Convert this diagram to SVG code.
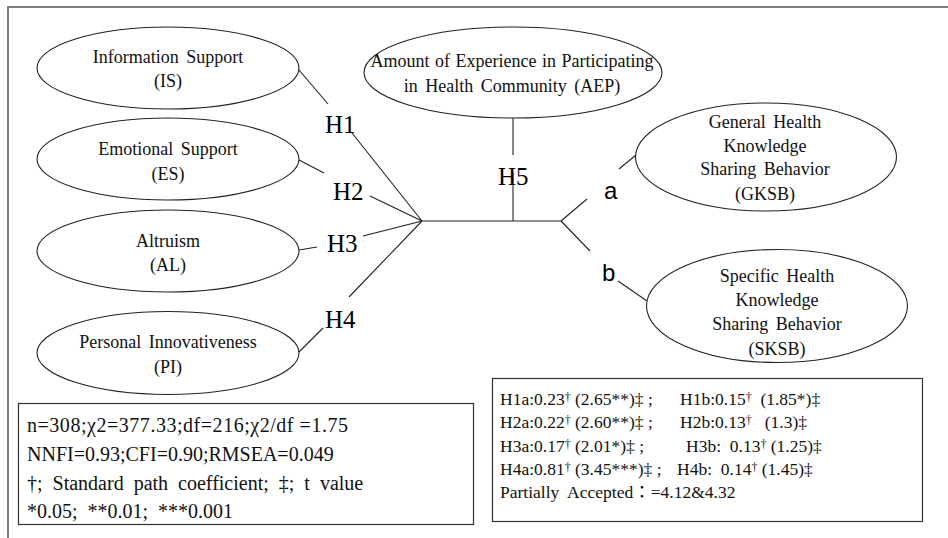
<svg xmlns="http://www.w3.org/2000/svg" width="948" height="538" viewBox="0 0 948 538">
<style>
  .frame{fill:#fff;stroke:#808080;stroke-width:2}
  .node{fill:#fff;stroke:#222;stroke-width:1.1}
  .lbl{font-family:"Liberation Serif","Times New Roman",serif;font-size:18px;fill:#111;text-anchor:middle;word-spacing:3px}
  .h{font-family:"Liberation Serif","Times New Roman",serif;font-size:25px;fill:#000}
  .ab{font-family:"Liberation Sans",Arial,sans-serif;font-size:24px;fill:#000}
  .conn line{stroke:#222;stroke-width:1.1}
  .box{fill:#fff;stroke:#333;stroke-width:1.2}
  .stat{font-family:"Liberation Serif","Times New Roman",serif;font-size:20px;fill:#111;white-space:pre}
  .res{font-family:"Liberation Serif","Times New Roman","Noto Sans CJK KR",serif;font-size:17.5px;fill:#111;white-space:pre}
  .sup{font-size:12px}
</style>
<rect class="frame" x="8" y="7" width="980" height="580"/>

<g id="connectors" class="conn">
  <line x1="299" y1="70" x2="328" y2="104"/>
  <line x1="352" y1="133" x2="422" y2="221"/>
  <line x1="299" y1="160" x2="324" y2="173"/>
  <line x1="370" y1="196" x2="422" y2="221"/>
  <line x1="299" y1="250" x2="317" y2="247"/>
  <line x1="363" y1="236" x2="422" y2="221"/>
  <line x1="299" y1="352" x2="323" y2="328"/>
  <line x1="349" y1="297" x2="422" y2="221"/>
  <line x1="422" y1="221" x2="561" y2="221"/>
  <line x1="561" y1="221" x2="587" y2="199"/>
  <line x1="561" y1="221" x2="590" y2="251"/>
  <line x1="619" y1="169" x2="636" y2="155"/>
  <line x1="618" y1="281" x2="647" y2="301"/>
  <line x1="513" y1="118" x2="513" y2="155"/>
  <line x1="513" y1="172" x2="513" y2="221"/>
</g>

<g id="IS">
  <ellipse class="node" cx="168" cy="68" rx="131" ry="41"/>
  <text class="lbl" x="168" y="63">Information Support</text>
  <text class="lbl" x="168" y="87">(IS)</text>
</g>
<g id="ES">
  <ellipse class="node" cx="168" cy="159" rx="131" ry="41"/>
  <text class="lbl" x="168" y="155">Emotional Support</text>
  <text class="lbl" x="168" y="180">(ES)</text>
</g>
<g id="AL">
  <ellipse class="node" cx="168" cy="251" rx="131" ry="41"/>
  <text class="lbl" x="168" y="247">Altruism</text>
  <text class="lbl" x="168" y="271">(AL)</text>
</g>
<g id="PI">
  <ellipse class="node" cx="168" cy="353" rx="131" ry="41.5"/>
  <text class="lbl" x="168" y="348">Personal Innovativeness</text>
  <text class="lbl" x="168" y="373">(PI)</text>
</g>
<g id="AEP">
  <ellipse class="node" cx="513" cy="72.5" rx="149" ry="45.5"/>
  <text class="lbl" x="512" y="67" style="word-spacing:1px">Amount of Experience in Participating</text>
  <text class="lbl" x="512" y="92">in Health Community (AEP)</text>
</g>
<g id="GKSB">
  <ellipse class="node" cx="766" cy="157" rx="130.5" ry="54"/>
  <text class="lbl" x="765" y="128">General Health</text>
  <text class="lbl" x="765" y="152">Knowledge</text>
  <text class="lbl" x="765" y="175">Sharing Behavior</text>
  <text class="lbl" x="765" y="200">(GKSB)</text>
</g>
<g id="SKSB">
  <ellipse class="node" cx="777" cy="306" rx="130.5" ry="56.5"/>
  <text class="lbl" x="777" y="282">Specific Health</text>
  <text class="lbl" x="777" y="306">Knowledge</text>
  <text class="lbl" x="777" y="330">Sharing Behavior</text>
  <text class="lbl" x="777" y="355">(SKSB)</text>
</g>

<g id="labels">
  <text class="h" x="325" y="133">H1</text>
  <text class="h" x="333" y="200">H2</text>
  <text class="h" x="327" y="252">H3</text>
  <text class="h" x="325" y="328">H4</text>
  <text class="h" x="498" y="185">H5</text>
  <text class="ab" x="604" y="199">a</text>
  <text class="ab" x="602" y="281">b</text>
</g>

<g id="fit-stats">
  <rect class="box" x="18.5" y="403.5" width="455" height="121"/>
  <text class="stat" x="27" y="432" textLength="321" lengthAdjust="spacing">n=308;χ2=377.33;df=216;χ2/df =1.75</text>
  <text class="stat" x="27" y="461">NNFI=0.93;CFI=0.90;RMSEA=0.049</text>
  <text class="stat" x="27" y="490">†;  Standard  path  coefficient;  ‡;  t  value</text>
  <text class="stat" x="27" y="518">*0.05;  **0.01;  ***0.001</text>
</g>

<g id="results">
  <rect class="box" x="492.5" y="378.5" width="430" height="143"/>
  <text class="res" x="500" y="405">H1a:0.23<tspan class="sup" dy="-4">†</tspan><tspan dy="4"> (2.65**)‡ ;</tspan></text>
  <text class="res" x="680" y="405">H1b:0.15<tspan class="sup" dy="-4">†</tspan><tspan dy="4">  (1.85*)‡</tspan></text>
  <text class="res" x="500" y="428">H2a:0.22<tspan class="sup" dy="-4">†</tspan><tspan dy="4"> (2.60**)‡ ;</tspan></text>
  <text class="res" x="680" y="428">H2b:0.13<tspan class="sup" dy="-4">†</tspan><tspan dy="4">   (1.3)‡</tspan></text>
  <text class="res" x="500" y="452">H3a:0.17<tspan class="sup" dy="-4">†</tspan><tspan dy="4"> (2.01*)‡ ;</tspan></text>
  <text class="res" x="686" y="452">H3b:  0.13<tspan class="sup" dy="-4">†</tspan><tspan dy="4"> (1.25)‡</tspan></text>
  <text class="res" x="500" y="475">H4a:0.81<tspan class="sup" dy="-4">†</tspan><tspan dy="4"> (3.45***)‡ ;</tspan></text>
  <text class="res" x="677" y="475">H4b:  0.14<tspan class="sup" dy="-4">†</tspan><tspan dy="4"> (1.45)‡</tspan></text>
  <text class="res" x="500" y="498">Partially  Accepted：=4.12&amp;4.32</text>
</g>
</svg>
